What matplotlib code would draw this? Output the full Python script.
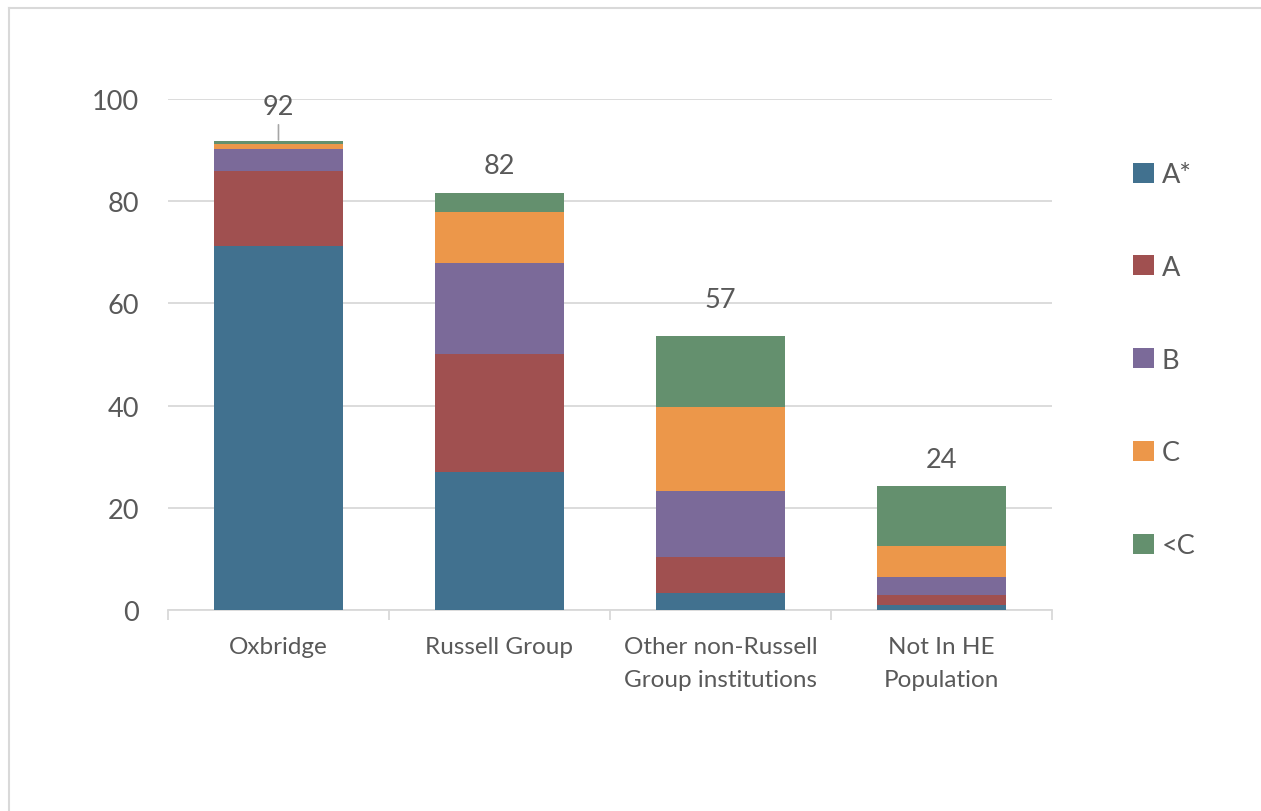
import numpy as np
import matplotlib.pyplot as plt
from matplotlib.lines import Line2D

plt.rcParams['font.family'] = ['Lato', 'DejaVu Sans']

categories = ["Oxbridge", "Russell Group", "Other non-Russell\nGroup institutions", "Not In HE\nPopulation"]
grades = ["A*", "A", "B", "C", "<C"]
a_star = [71.2, 27.1, 3.3, 1.0]
a = [14.8, 23.0, 7.1, 2.0]
b = [4.2, 17.9, 12.8, 3.5]
c = [1.0, 9.8, 16.5, 6.1]
below_c = [0.5, 3.9, 13.9, 11.7]
total_labels = [92, 82, 57, 24]

colors = ['#41718F', '#A05050', '#7B6A99', '#EC974A', '#64906E']
text_col = '#595959'
grid_col = '#D9D9D9'

fig = plt.figure(figsize=(12.61, 8.12), dpi=100)
ax = fig.add_axes([0.1332, 0.2475, 0.7011, 0.6293])

x = np.arange(len(categories))
bottom = np.zeros(len(categories))
for name, vals, col in zip(grades, [a_star, a, b, c, below_c], colors):
    ax.bar(x, vals, 0.58, bottom=bottom, color=col, label=name, zorder=3)
    bottom += np.array(vals)

# total labels above the bars (centre offset in points)
offsets = [25, 19.5, 26.5, 18.7]
for i, (lab, top) in enumerate(zip(total_labels, bottom)):
    if i == 0:
        ax.annotate(str(lab), xy=(x[i], top), xytext=(0, offsets[i]), textcoords='offset points',
                    ha='center', va='center', fontsize=19.5, color=text_col,
                    arrowprops=dict(arrowstyle='-', color='#A6A6A6', lw=1.2, shrinkA=2, shrinkB=1))
    else:
        ax.annotate(str(lab), xy=(x[i], top), xytext=(0, offsets[i]), textcoords='offset points',
                    ha='center', va='center', fontsize=19.5, color=text_col)

ax.set_xlim(-0.5, len(categories) - 0.5)
ax.set_ylim(0, 100)
ax.set_yticks(np.arange(0, 101, 20))
ax.yaxis.grid(True, color=grid_col, lw=1.3, zorder=0)
ax.tick_params(axis='y', length=0, pad=21, labelsize=19.5, labelcolor=text_col)

ax.set_xticks(x)
ax.set_xticklabels(categories, fontsize=17.5, color=text_col, linespacing=1.68)
ax.set_xticks(np.arange(-0.5, len(categories), 1), minor=True)
ax.tick_params(axis='x', which='major', length=0, pad=19)
ax.tick_params(axis='x', which='minor', length=7, width=1.3, color=grid_col)

for s in ['top', 'right', 'left']:
    ax.spines[s].set_visible(False)
ax.spines['bottom'].set_color(grid_col)
ax.spines['bottom'].set_linewidth(1.3)

fig.legend(loc='upper left', bbox_to_anchor=(0.8985, 0.799), frameon=False, fontsize=19.5,
           labelcolor=text_col, handlelength=0.76, handleheight=0.76, handletextpad=0.3,
           labelspacing=2.5, borderpad=0, borderaxespad=0)

# chart border (top and left edges visible)
fig.add_artist(Line2D([9 / 1261, 9 / 1261], [0, 1 - 9 / 812], color=grid_col, lw=1.5))
fig.add_artist(Line2D([9 / 1261, 1], [1 - 9 / 812, 1 - 9 / 812], color=grid_col, lw=1.5))

fig.savefig('out.png', dpi=100)
